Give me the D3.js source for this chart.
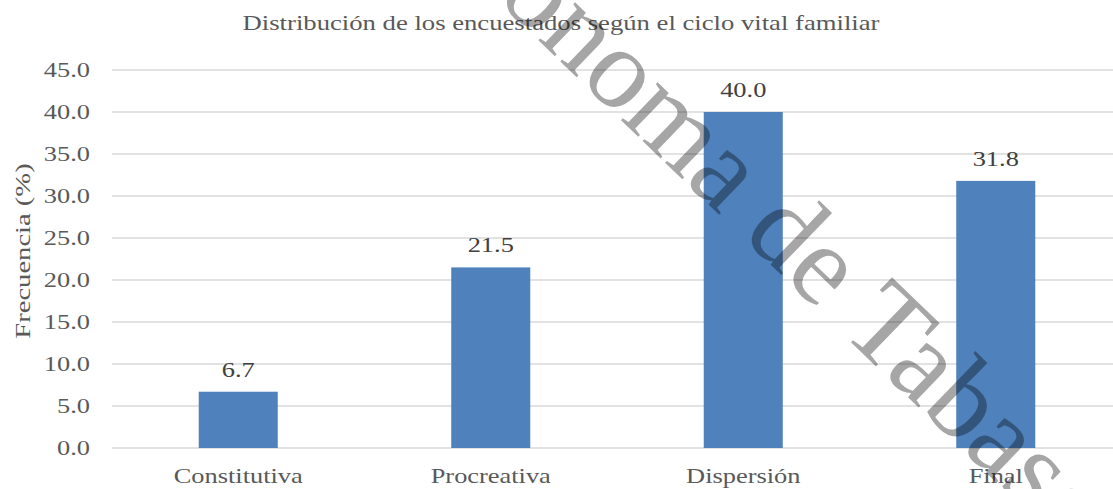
<!DOCTYPE html>
<html><head><meta charset="utf-8">
<script src="https://cdn.jsdelivr.net/npm/d3@7"></script>
<style>body{margin:0;background:#fff}svg{display:block}text{font-family:"Liberation Serif","Times New Roman",serif}</style>
</head><body>
<svg id="c" width="1113" height="489"></svg>
<script>
const categories = ["Constitutiva","Procreativa","Dispersión","Final"];
const values = [6.7, 21.5, 40.0, 31.8];
const yTicks = [0,5,10,15,20,25,30,35,40,45];
const title = "Distribución de los encuestados según el ciclo vital familiar";
const yTitle = "Frecuencia (%)";
const watermarkA = "Universidad Juárez Autónoma\u00a0";
const watermarkB = "de Tabasco";

const svg = d3.select("#c");
const pLeft = 112, pRight = 1122, pTop = 70, pBottom = 448;
const SX = 1.2;
const x = d3.scaleBand().domain(categories).range([pLeft, pRight]).paddingInner(0.687).paddingOuter(0.3435);
const y = d3.scaleLinear().domain([0,45]).range([pBottom, pTop]);
const fmt = d3.format(".1f");

// gridlines
svg.append("g").selectAll("line").data(yTicks).join("line")
  .attr("x1", pLeft).attr("x2", pRight)
  .attr("y1", d=>y(d)).attr("y2", d=>y(d))
  .attr("stroke", "#d9d9d9").attr("stroke-width", 1.5);

// y tick labels
svg.append("g").selectAll("text").data(yTicks).join("text")
  .attr("transform", d=>`translate(90,${y(d)}) scale(${SX},1)`)
  .attr("dy", "0.34em").attr("text-anchor", "end")
  .attr("font-size", 22).attr("fill", "#595959").text(d=>fmt(d));

// bars
svg.append("g").selectAll("rect").data(values).join("rect")
  .attr("x", (d,i)=>x(categories[i]))
  .attr("width", x.bandwidth())
  .attr("y", d=>y(d))
  .attr("height", d=>y(0)-y(d))
  .attr("fill", "#4f81bd");

// data labels
svg.append("g").selectAll("text").data(values).join("text")
  .attr("transform", (d,i)=>`translate(${x(categories[i]) + x.bandwidth()/2},${y(d) - 15}) scale(${SX},1)`)
  .attr("text-anchor", "middle").attr("font-size", 22).attr("fill", "#404040")
  .text(d=>fmt(d));

// x labels
svg.append("g").selectAll("text").data(categories).join("text")
  .attr("transform", d=>`translate(${x(d) + x.bandwidth()/2},${pBottom + 35}) scale(${SX},1)`)
  .attr("text-anchor", "middle").attr("font-size", 22).attr("fill", "#595959")
  .text(d=>d);

// title
svg.append("text").attr("transform", `translate(561,30) scale(1.27,1)`).attr("text-anchor", "middle")
  .attr("font-size", 21).attr("fill", "#595959").text(title);

// y title
svg.append("text").attr("transform", "translate(30,251) rotate(-90) scale(1.3,1)").attr("text-anchor", "middle")
  .attr("font-size", 22).attr("fill", "#595959").text(yTitle);

// watermark
const wm = svg.append("g").attr("transform", "translate(741,236) rotate(44)").attr("fill", "rgba(0,0,0,0.35)");
wm.append("text").attr("text-anchor", "end").attr("font-size", 115).text(watermarkA);
wm.append("text").attr("text-anchor", "start").attr("font-size", 115).text(watermarkB);
</script>
</body></html>
